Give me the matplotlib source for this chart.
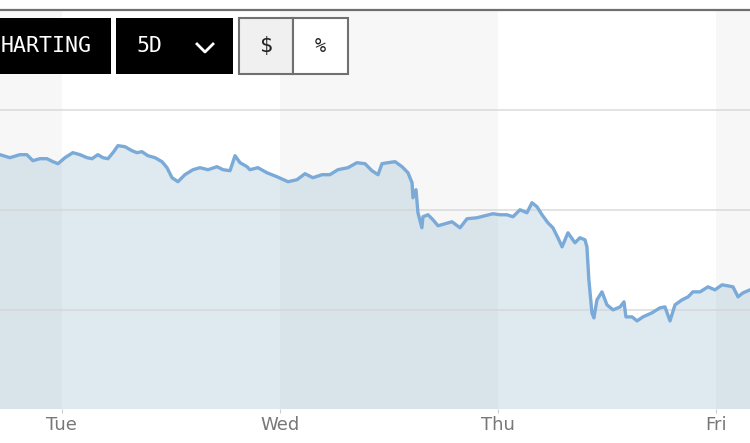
import matplotlib.pyplot as plt
from matplotlib.patches import Rectangle
from matplotlib.lines import Line2D

# time in trading days (Tue = 1, Wed = 2, ...) and price
days = [0.716, 0.761, 0.807, 0.839, 0.867, 0.899, 0.931, 0.959, 0.982, 1.014,
        1.050, 1.083, 1.115, 1.138, 1.165, 1.188, 1.211, 1.234, 1.257, 1.289,
        1.321, 1.344, 1.367, 1.394, 1.427, 1.459, 1.482, 1.505, 1.532, 1.564,
        1.601, 1.633, 1.670, 1.711, 1.739, 1.771, 1.794, 1.817, 1.849, 1.862,
        1.899, 1.940, 1.986, 2.037, 2.078, 2.115, 2.151, 2.193, 2.229, 2.266,
        2.312, 2.353, 2.390, 2.422, 2.450, 2.468, 2.495, 2.528, 2.560, 2.587,
        2.606, 2.610, 2.624, 2.633, 2.651, 2.656, 2.679, 2.702, 2.725, 2.757,
        2.789, 2.826, 2.858, 2.904, 2.940, 2.977, 3.009, 3.041, 3.069, 3.101,
        3.133, 3.156, 3.179, 3.202, 3.229, 3.252, 3.275, 3.294, 3.321, 3.353,
        3.376, 3.399, 3.408, 3.417, 3.431, 3.440, 3.454, 3.477, 3.500, 3.528,
        3.560, 3.578, 3.587, 3.615, 3.638, 3.665, 3.706, 3.743, 3.766, 3.789,
        3.812, 3.844, 3.872, 3.894, 3.927, 3.963, 3.995, 4.028, 4.055, 4.078,
        4.101, 4.124, 4.156]
prices = [99.10, 99.04, 99.10, 99.10, 98.98, 99.02, 99.02, 98.96, 98.92, 99.04,
          99.14, 99.10, 99.04, 99.02, 99.10, 99.04, 99.02, 99.14, 99.28, 99.26,
          99.18, 99.14, 99.16, 99.08, 99.04, 98.96, 98.84, 98.64, 98.56, 98.70,
          98.80, 98.84, 98.80, 98.86, 98.80, 98.78, 99.08, 98.94, 98.86, 98.80,
          98.84, 98.74, 98.66, 98.56, 98.60, 98.72, 98.64, 98.70, 98.70, 98.80,
          98.84, 98.94, 98.92, 98.78, 98.70, 98.92, 98.94, 98.96, 98.86, 98.74,
          98.54, 98.24, 98.40, 97.94, 97.64, 97.86, 97.90, 97.80, 97.68, 97.72,
          97.76, 97.64, 97.82, 97.84, 97.88, 97.92, 97.90, 97.90, 97.86, 98.00,
          97.94, 98.14, 98.06, 97.90, 97.74, 97.64, 97.44, 97.26, 97.54, 97.34,
          97.44, 97.40, 97.26, 96.60, 95.94, 95.84, 96.20, 96.36, 96.10, 96.00,
          96.06, 96.16, 95.86, 95.86, 95.78, 95.86, 95.94, 96.04, 96.06, 95.78,
          96.10, 96.20, 96.26, 96.36, 96.36, 96.46, 96.40, 96.50, 96.48, 96.46,
          96.26, 96.34, 96.40]

day_labels = ['Tue', 'Wed', 'Thu', 'Fri']
day_ticks = [1, 2, 3, 4]
grid_levels = [96, 98, 100]

W, H = 750, 443
fig = plt.figure(figsize=(W / 100, H / 100), dpi=100)


def fx(px):
    return px / W


def fy(py):
    return 1 - py / H


ax = fig.add_axes([0, fy(409), 1, fy(9.5) - fy(409)])
ax.set_xlim(days[0], days[-1])
ax.set_ylim(94.02, 102.0)

# alternating day bands
for start in [0, 2, 4]:
    ax.axvspan(start, start + 1, color='#f7f7f7', lw=0, zorder=0)

ax.fill_between(days, prices, 94.02, color='#80a8c4', alpha=0.25, lw=0, zorder=1)
for g in grid_levels:
    ax.axhline(g, color='#d4d4d4', lw=1.3, alpha=0.7, zorder=2)
ax.plot(days, prices, color='#7aaad8', lw=2.4, zorder=3, solid_joinstyle='round')

for s in ['left', 'right', 'bottom']:
    ax.spines[s].set_visible(False)
ax.spines['top'].set_color('#6f6f6f')
ax.spines['top'].set_linewidth(1.6)

ax.set_yticks([])
ax.set_xticks(day_ticks)
ax.set_xticklabels(day_labels, family=['Liberation Sans Narrow', 'DejaVu Sans'],
                   fontsize=13, color='#777777')
ax.tick_params(axis='x', length=3, color='#cccccc', pad=2)

# toolbar buttons
mono = 'DejaVu Sans Mono'


def box(x0, x1, face, edge=None):
    r = Rectangle((fx(x0), fy(74)), fx(x1) - fx(x0), fy(18) - fy(74),
                  transform=fig.transFigure, facecolor=face,
                  edgecolor=edge if edge else face, lw=1.5 if edge else 0,
                  zorder=5)
    fig.patches.append(r)


box(-10, 111, 'black')
box(116, 233, 'black')
box(239, 293, '#f0f0f0', '#707070')
box(293, 348, 'white', '#707070')

fig.text(fx(1), fy(46), 'HARTING', ha='left', va='center', family=mono,
         fontsize=15.5, color='white', zorder=6)
fig.text(fx(149), fy(46), '5D', ha='center', va='center', family=mono,
         fontsize=15.5, color='white', zorder=6)
fig.lines.append(Line2D([fx(197), fx(205), fx(213)], [fy(44), fy(52), fy(44)],
                        transform=fig.transFigure, color='white', lw=2, zorder=6))
fig.text(fx(266), fy(46), '$', ha='center', va='center', family=mono,
         fontsize=15.5, color='#222222', zorder=6)
fig.text(fx(320), fy(46), '%', ha='center', va='center', family=mono,
         fontsize=13.5, color='#222222', zorder=6)

fig.savefig('out.png', dpi=100)
